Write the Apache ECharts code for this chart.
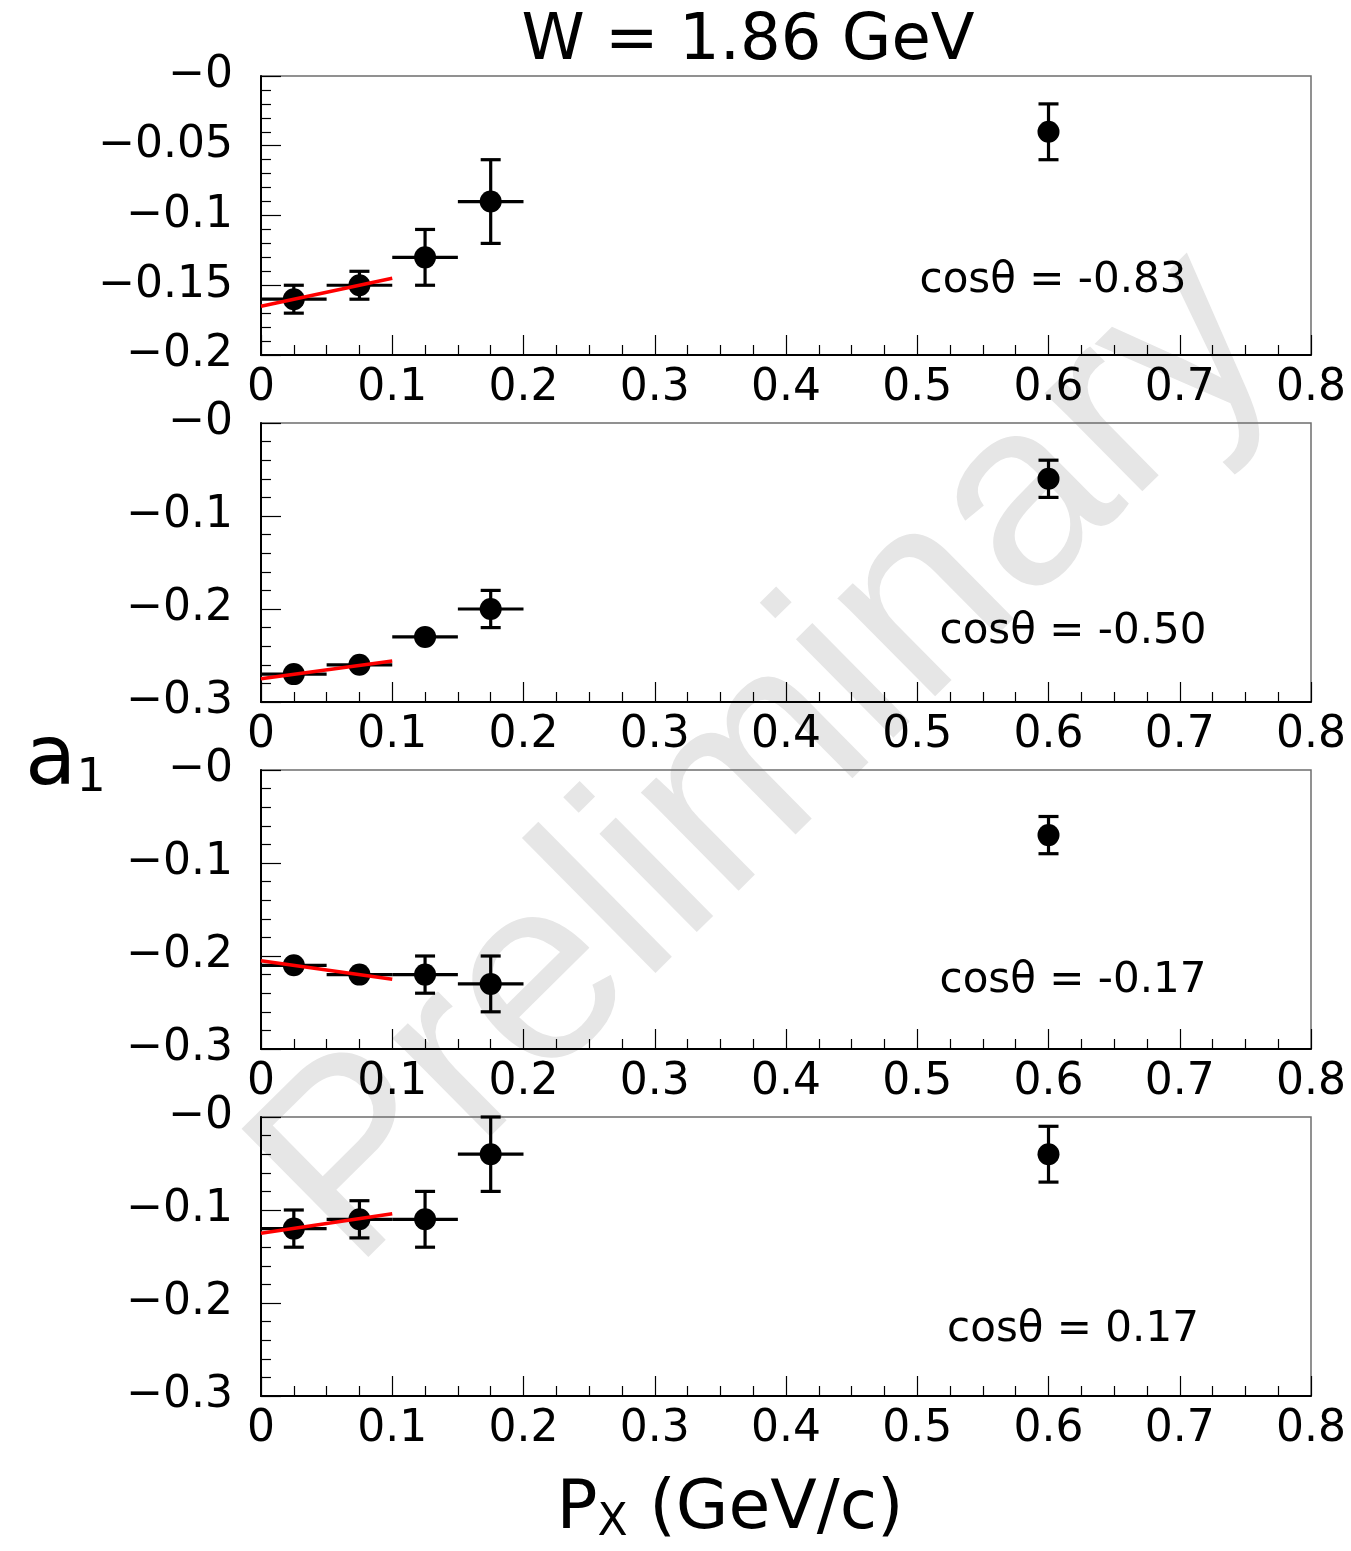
<!DOCTYPE html>
<html>
<head>
<meta charset="utf-8">
<script src="https://cdn.jsdelivr.net/npm/echarts@6/dist/echarts.min.js"></script>
<style>
  html, body { margin: 0; padding: 0; background: #fff; }
  #chart { width: 1351px; height: 1551px; }
</style>
</head>
<body>
<div id="chart"></div>
<script>
// Bin centres and half-widths in P_X (GeV/c)
const pX = [0.025, 0.075, 0.125, 0.175, 0.6];
const pXErr = [0.025, 0.025, 0.025, 0.025, 0];
const xTicks = [0, 0.1, 0.2, 0.3, 0.4, 0.5, 0.6, 0.7, 0.8];

// Panel labels
const cosLabels = ['cosθ = -0.83', 'cosθ = -0.50', 'cosθ = -0.17', 'cosθ = 0.17'];

// a1 values and uncertainties for each cosθ bin
const a1_m083 = [-0.16, -0.15, -0.13, -0.09, -0.04];
const err_m083 = [0.01, 0.01, 0.02, 0.03, 0.02];
const a1_m050 = [-0.27, -0.26, -0.23, -0.20, -0.06];
const err_m050 = [0.004, 0.004, 0.004, 0.02, 0.02];
const a1_m017 = [-0.21, -0.22, -0.22, -0.23, -0.07];
const err_m017 = [0.004, 0.004, 0.02, 0.03, 0.02];
const a1_p017 = [-0.12, -0.11, -0.11, -0.04, -0.04];
const err_p017 = [0.02, 0.02, 0.03, 0.04, 0.03];

// Linear fits over the low-momentum region
const fitX = [0, 0.1];
const fit_m083 = [-0.165, -0.145];
const fit_m050 = [-0.275, -0.256];
const fit_m017 = [-0.205, -0.225];
const fit_p017 = [-0.125, -0.104];

// y-axis ranges per panel
const yMin = [-0.2, -0.3, -0.3, -0.3];
const yStep = [0.05, 0.1, 0.1, 0.1];

const panels = [
  { y: a1_m083, e: err_m083, fit: fit_m083 },
  { y: a1_m050, e: err_m050, fit: fit_m050 },
  { y: a1_m017, e: err_m017, fit: fit_m017 },
  { y: a1_p017, e: err_p017, fit: fit_p017 }
];

const gridLeft = 261, gridWidth = 1050, gridHeight = 279;
const gridTops = [76, 423, 770, 1117];
const markerR = 11;
const tickFont = 'DejaVu Sans';

function fmtY(v) {
  const s = parseFloat(Math.abs(v).toFixed(3)).toString();
  return '\u2212' + s;
}
function fmtX(v) {
  return parseFloat(v.toFixed(3)).toString();
}

const grids = [], xAxes = [], yAxes = [], series = [], graphics = [];

panels.forEach((p, i) => {
  grids.push({
    left: gridLeft, top: gridTops[i], width: gridWidth, height: gridHeight,
    show: true, borderColor: '#6e6e6e', borderWidth: 1.5, backgroundColor: 'transparent'
  });
  xAxes.push({
    type: 'value', gridIndex: i, min: 0, max: 0.8, interval: 0.1,
    axisLine: { show: true, onZero: false, lineStyle: { color: '#000', width: 2 } },
    axisTick: { show: true, inside: true, length: 20, lineStyle: { color: '#000', width: 1.2 } },
    minorTick: { show: true, splitNumber: 4, length: 10, lineStyle: { color: '#000', width: 1.2 } },
    splitLine: { show: false },
    axisLabel: {
      show: true, margin: 12, color: '#000', fontFamily: tickFont, fontSize: 44,
      formatter: fmtX, showMinLabel: true, showMaxLabel: true
    }
  });
  yAxes.push({
    type: 'value', gridIndex: i, min: yMin[i], max: 0, interval: yStep[i],
    axisLine: { show: true, onZero: false, lineStyle: { color: '#000', width: 2 } },
    axisTick: { show: true, inside: true, length: 20, lineStyle: { color: '#000', width: 1.2 } },
    minorTick: { show: true, splitNumber: 5, length: 10, lineStyle: { color: '#000', width: 1.2 } },
    splitLine: { show: false },
    axisLabel: {
      show: true, margin: 28, color: '#000', fontFamily: tickFont, fontSize: 44,
      formatter: fmtY, showMinLabel: true, showMaxLabel: true
    }
  });

  const pts = pX.map((x, k) => [x, p.y[k], pXErr[k], p.e[k]]);

  // error bars (horizontal bin width, vertical uncertainty with end caps)
  series.push({
    type: 'custom', xAxisIndex: i, yAxisIndex: i, z: 3,
    data: pts,
    renderItem: function (params, api) {
      const x = api.value(0), y = api.value(1), ex = api.value(2), ey = api.value(3);
      const c = api.coord([x, y]);
      const children = [];
      const style = { stroke: '#000', lineWidth: 3.2, fill: null };
      if (ex > 0) {
        const l = api.coord([x - ex, y]), r = api.coord([x + ex, y]);
        children.push({ type: 'line', shape: { x1: l[0], y1: c[1], x2: r[0], y2: c[1] }, style: style });
      }
      const top = api.coord([x, y + ey]), bot = api.coord([x, y - ey]);
      if (Math.abs(bot[1] - c[1]) > markerR) {
        const cap = 10;
        children.push({ type: 'line', shape: { x1: c[0], y1: top[1], x2: c[0], y2: bot[1] }, style: style });
        children.push({ type: 'line', shape: { x1: c[0] - cap, y1: top[1], x2: c[0] + cap, y2: top[1] }, style: style });
        children.push({ type: 'line', shape: { x1: c[0] - cap, y1: bot[1], x2: c[0] + cap, y2: bot[1] }, style: style });
      }
      return { type: 'group', children: children };
    }
  });

  // data markers
  series.push({
    type: 'scatter', xAxisIndex: i, yAxisIndex: i, z: 4,
    symbol: 'circle', symbolSize: markerR * 2,
    itemStyle: { color: '#000', opacity: 1 },
    data: pts.map(d => [d[0], d[1]])
  });

  // linear fit
  series.push({
    type: 'line', xAxisIndex: i, yAxisIndex: i, z: 5,
    symbol: 'none', silent: true,
    lineStyle: { color: '#ff0000', width: 3.5 },
    data: fitX.map((x, k) => [x, p.fit[k]])
  });

  graphics.push({
    type: 'text', z: 10,
    x: i === 0 ? 1053 : 1073, y: gridTops[i] + [205, 209, 211, 213][i],
    style: {
      text: cosLabels[i], fill: '#000', fontFamily: 'DejaVu Sans', fontSize: 42,
      align: 'center', verticalAlign: 'middle'
    }
  });
});

// watermark
graphics.unshift({
  type: 'text', z: -10, x: 768, y: 760, rotation: 0.78,
  style: {
    text: 'Preliminary', fill: '#e6e6e6', fontFamily: 'Liberation Sans', fontSize: 262,
    align: 'center', verticalAlign: 'middle'
  }
});

// title and axis titles
graphics.push({
  type: 'text', x: 748, y: 42,
  style: { text: 'W = 1.86 GeV', fill: '#000', fontFamily: 'DejaVu Sans', fontSize: 64, align: 'center', verticalAlign: 'middle' }
});
graphics.push({
  type: 'text', x: 25, y: 762,
  style: {
    text: '{a|a}{s|1}', align: 'left', verticalAlign: 'middle',
    rich: {
      a: { fontFamily: 'DejaVu Sans', fontSize: 84, color: '#000' },
      s: { fontFamily: 'DejaVu Sans', fontSize: 46, color: '#000', padding: [34, 0, 0, 0] }
    }
  }
});
graphics.push({
  type: 'text', x: 730, y: 1510,
  style: {
    text: '{p|P}{s|X}{p| (GeV/c)}', align: 'center', verticalAlign: 'middle',
    rich: {
      p: { fontFamily: 'DejaVu Sans', fontSize: 68, color: '#000' },
      s: { fontFamily: 'DejaVu Sans', fontSize: 44, color: '#000', padding: [28, 0, 0, 0] }
    }
  }
});

const chart = echarts.init(document.getElementById('chart'), null, { renderer: 'canvas' });
chart.setOption({
  backgroundColor: '#fff',
  animation: false,
  grid: grids,
  xAxis: xAxes,
  yAxis: yAxes,
  series: series,
  graphic: graphics
});
</script>
</body>
</html>
